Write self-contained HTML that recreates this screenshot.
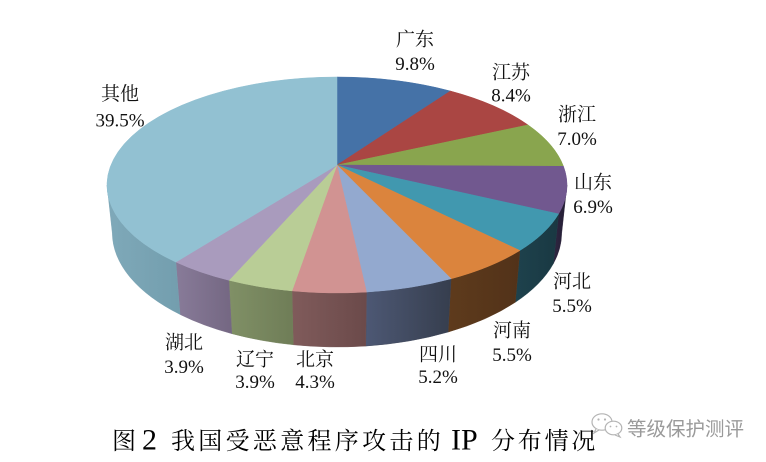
<!DOCTYPE html>
<html>
<head>
<meta charset="utf-8">
<style>
  html,body{margin:0;padding:0;background:#fff;}
  body{width:766px;height:462px;overflow:hidden;}
  svg{display:block;}
  .lbl{font-family:"Liberation Serif","Noto Serif CJK SC","Noto Serif CJK JP","Noto Serif CJK TC",serif;font-size:19px;fill:#111;}
  .cap{font-family:"Liberation Serif","Noto Serif CJK SC","Noto Serif CJK JP","Noto Serif CJK TC",serif;fill:#000;}
  .wm{font-family:"Liberation Sans","Noto Sans CJK SC",sans-serif;font-size:19.5px;fill:#9a9a9a;}
</style>
</head>
<body>
<svg width="766" height="462" viewBox="0 0 766 462" xmlns="http://www.w3.org/2000/svg">
  <defs>
    <linearGradient id="gSD" gradientUnits="userSpaceOnUse" x1="553" y1="0" x2="567" y2="0">
      <stop offset="0" stop-color="#2f2742"/><stop offset="1" stop-color="#231c33"/>
    </linearGradient>
    <linearGradient id="gHB" gradientUnits="userSpaceOnUse" x1="515" y1="0" x2="559" y2="0">
      <stop offset="0" stop-color="#1e424d"/><stop offset="1" stop-color="#193842"/>
    </linearGradient>
    <linearGradient id="gHN" gradientUnits="userSpaceOnUse" x1="448" y1="0" x2="520" y2="0">
      <stop offset="0" stop-color="#5e3b1c"/><stop offset="1" stop-color="#523219"/>
    </linearGradient>
    <linearGradient id="gSC" gradientUnits="userSpaceOnUse" x1="366" y1="0" x2="451" y2="0">
      <stop offset="0" stop-color="#4d5874"/><stop offset="1" stop-color="#363e4e"/>
    </linearGradient>
    <linearGradient id="gBJ" gradientUnits="userSpaceOnUse" x1="292" y1="0" x2="367" y2="0">
      <stop offset="0" stop-color="#805b5b"/><stop offset="1" stop-color="#6b4a4a"/>
    </linearGradient>
    <linearGradient id="gLN" gradientUnits="userSpaceOnUse" x1="229" y1="0" x2="293" y2="0">
      <stop offset="0" stop-color="#809066"/><stop offset="1" stop-color="#6f7d57"/>
    </linearGradient>
    <linearGradient id="gHUB" gradientUnits="userSpaceOnUse" x1="176" y1="0" x2="232" y2="0">
      <stop offset="0" stop-color="#887b99"/><stop offset="1" stop-color="#746782"/>
    </linearGradient>
    <linearGradient id="gQT" gradientUnits="userSpaceOnUse" x1="107" y1="0" x2="180" y2="0">
      <stop offset="0" stop-color="#7fa9b9"/><stop offset="1" stop-color="#739eae"/>
    </linearGradient>
  </defs>

  <!-- sides -->
  <g stroke-width="0.4">
    <path d="M567.0 185.1 A230 108 0 0 1 558.6 213.9 L553.3 263.8 A224.7 114.2 0 0 0 561.7 233.3 Z" fill="url(#gSD)" stroke="#2a2239"/>
    <path d="M558.6 213.9 A230 108 0 0 1 519.9 250.5 L515.3 302.3 A224.7 114.2 0 0 0 553.3 263.8 Z" fill="url(#gHB)" stroke="#1c3d47"/>
    <path d="M519.9 250.5 A230 108 0 0 1 451.1 278.8 L448.1 332.1 A224.7 114.2 0 0 0 515.3 302.3 Z" fill="url(#gHN)" stroke="#58361a"/>
    <path d="M451.1 278.8 A230 108 0 0 1 366.5 292.1 L365.7 346.1 A224.7 114.2 0 0 0 448.1 332.1 Z" fill="url(#gSC)" stroke="#3b4355"/>
    <path d="M366.5 292.1 A230 108 0 0 1 292.0 290.9 L293.3 344.8 A224.7 114.2 0 0 0 365.7 346.1 Z" fill="url(#gBJ)" stroke="#6f4e4e"/>
    <path d="M292.0 290.9 A230 108 0 0 1 228.9 280.3 L231.8 333.7 A224.7 114.2 0 0 0 293.3 344.8 Z" fill="url(#gLN)" stroke="#74825c"/>
    <path d="M228.9 280.3 A230 108 0 0 1 175.9 262.1 L180.1 314.5 A224.7 114.2 0 0 0 231.8 333.7 Z" fill="url(#gHUB)" stroke="#786b88"/>
    <path d="M175.9 262.1 A230 108 0 0 1 107.0 185.1 L112.3 233.3 A224.7 114.2 0 0 0 180.1 314.5 Z" fill="url(#gQT)" stroke="#78a2b2"/>
  </g>

  <!-- top faces -->
  <g stroke-width="0.5" stroke-linejoin="round">
    <path d="M337 165 L337 77 A230 108 0 0 1 450.4 91.0 Z" fill="#4572a7" stroke="#4572a7"/>
    <path d="M337 165 L450.4 91.0 A230 108 0 0 1 528.0 124.9 Z" fill="#aa4643" stroke="#aa4643"/>
    <path d="M337 165 L528.0 124.9 A230 108 0 0 1 563.5 166.3 Z" fill="#89a54e" stroke="#89a54e"/>
    <path d="M337 165 L563.5 166.3 A230 108 0 0 1 558.6 213.9 Z" fill="#71588f" stroke="#71588f"/>
    <path d="M337 165 L558.6 213.9 A230 108 0 0 1 519.9 250.5 Z" fill="#4198af" stroke="#4198af"/>
    <path d="M337 165 L519.9 250.5 A230 108 0 0 1 451.1 278.8 Z" fill="#db843d" stroke="#db843d"/>
    <path d="M337 165 L451.1 278.8 A230 108 0 0 1 366.5 292.1 Z" fill="#93a9cf" stroke="#93a9cf"/>
    <path d="M337 165 L366.5 292.1 A230 108 0 0 1 292.0 290.9 Z" fill="#d19392" stroke="#d19392"/>
    <path d="M337 165 L292.0 290.9 A230 108 0 0 1 228.9 280.3 Z" fill="#b9cd96" stroke="#b9cd96"/>
    <path d="M337 165 L228.9 280.3 A230 108 0 0 1 175.9 262.1 Z" fill="#a99bbd" stroke="#a99bbd"/>
    <path d="M337 165 L175.9 262.1 A230 108 0 0 1 337 77 Z" fill="#92c1d2" stroke="#92c1d2"/>
  </g>

  <!-- labels -->
  <g class="lbl" text-anchor="middle">
    <text x="415" y="45.5">广东</text><text x="415" y="70">9.8%</text>
    <text x="511" y="78.5">江苏</text><text x="511" y="101.5">8.4%</text>
    <text x="577" y="120.5">浙江</text><text x="577" y="145">7.0%</text>
    <text x="593" y="188.5">山东</text><text x="593" y="213">6.9%</text>
    <text x="572" y="287.5">河北</text><text x="572" y="312">5.5%</text>
    <text x="512" y="336.5">河南</text><text x="512" y="361">5.5%</text>
    <text x="438" y="360.5">四川</text><text x="438" y="383">5.2%</text>
    <text x="315" y="365.5">北京</text><text x="315" y="388">4.3%</text>
    <text x="255" y="365.5">辽宁</text><text x="255" y="388">3.9%</text>
    <text x="184" y="348.5">湖北</text><text x="184" y="373">3.9%</text>
    <text x="120" y="100">其他</text><text x="120" y="126.5">39.5%</text>
  </g>

  <!-- caption -->
  <g class="cap">
    <text x="112" y="449" font-size="24">图</text>
    <text x="142" y="449.5" font-size="30">2</text>
    <text x="171" y="449" font-size="24" letter-spacing="3.3">我国受恶意程序攻击的</text>
    <text x="451" y="449.5" font-size="30">IP</text>
    <text x="491" y="449" font-size="24" letter-spacing="2.8">分布情况</text>
  </g>

  <!-- watermark -->
  <g fill="#fff" stroke="#b4b4b4" stroke-width="1.2">
    <ellipse cx="602" cy="422" rx="10" ry="8.2"/>
    <path d="M596 429 L594 433 L599 430" />
    <ellipse cx="613.5" cy="428" rx="8.3" ry="6.8"/>
    <path d="M618 434 L620 437 L615 435"/>
  </g>
  <g fill="#b4b4b4">
    <circle cx="598.5" cy="419.5" r="1.1"/>
    <circle cx="605" cy="419.5" r="1.1"/>
    <circle cx="610.5" cy="426.5" r="0.9"/>
    <circle cx="616.5" cy="426.5" r="0.9"/>
  </g>
  <text class="wm" x="627" y="435.5" stroke="#ffffff" stroke-width="2.5" paint-order="stroke">等级保护测评</text>
</svg>
</body>
</html>
